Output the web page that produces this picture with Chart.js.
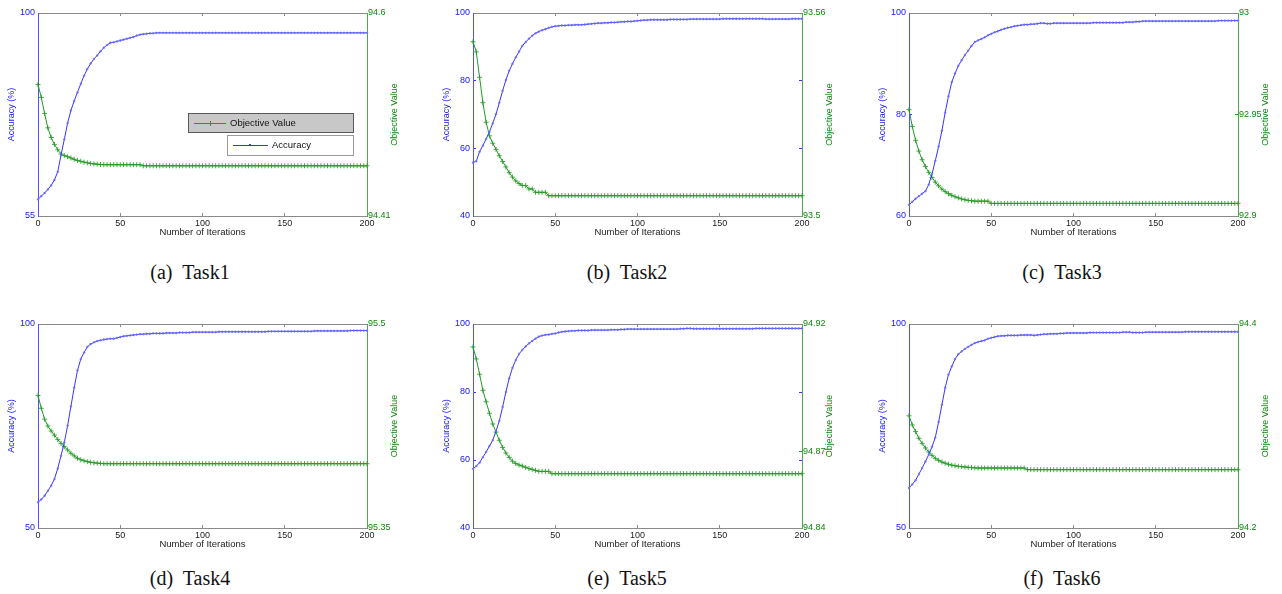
<!DOCTYPE html>
<html>
<head>
<meta charset="utf-8">
<title>Accuracy and Objective Value vs. Number of Iterations</title>
<script src="https://cdn.jsdelivr.net/npm/chart.js@4.4.1/dist/chart.umd.min.js"></script>
<style>
    html, body { margin: 0; padding: 0; background: #fff; overflow: hidden; }
    body { width: 1282px; height: 594px; position: relative; }
    canvas { position: absolute; }
    .caption {
        position: absolute;
        width: 200px;
        text-align: center;
        font-family: "Liberation Serif", "Times New Roman", serif;
        font-size: 20px;
        line-height: 20px;
        color: #111;
        white-space: pre;
    }
</style>
</head>
<body>
<script>
// Iterations on the x axis (every second iteration)
const iterations = [
    0, 2, 4, 6, 8, 10, 12, 14, 16, 18,
    20, 22, 24, 26, 28, 30, 32, 34, 36, 38,
    40, 42, 44, 46, 48, 50, 52, 54, 56, 58,
    60, 62, 64, 66, 68, 70, 72, 74, 76, 78,
    80, 82, 84, 86, 88, 90, 92, 94, 96, 98,
    100, 102, 104, 106, 108, 110, 112, 114, 116, 118,
    120, 122, 124, 126, 128, 130, 132, 134, 136, 138,
    140, 142, 144, 146, 148, 150, 152, 154, 156, 158,
    160, 162, 164, 166, 168, 170, 172, 174, 176, 178,
    180, 182, 184, 186, 188, 190, 192, 194, 196, 198,
    200
];

// Task1
const accTask1 = [
    58.7, 59.4, 60.1, 60.9, 61.8, 63.0, 64.8, 68.5, 72.0, 75.6,
    78.4, 80.5, 82.4, 84.3, 86.1, 87.6, 88.8, 89.8, 90.6, 91.5,
    92.3, 92.9, 93.4, 93.5, 93.7, 93.9, 94.1, 94.3, 94.5, 94.7,
    95.0, 95.2, 95.3, 95.4, 95.5, 95.5, 95.6, 95.6, 95.6, 95.6,
    95.6, 95.6, 95.6, 95.6, 95.6, 95.6, 95.6, 95.6, 95.6, 95.6,
    95.6, 95.6, 95.6, 95.6, 95.6, 95.6, 95.6, 95.6, 95.6, 95.6,
    95.6, 95.6, 95.6, 95.6, 95.6, 95.6, 95.6, 95.6, 95.6, 95.6,
    95.6, 95.6, 95.6, 95.6, 95.6, 95.6, 95.6, 95.6, 95.6, 95.6,
    95.6, 95.6, 95.6, 95.6, 95.6, 95.6, 95.6, 95.6, 95.6, 95.6,
    95.6, 95.6, 95.6, 95.6, 95.6, 95.6, 95.6, 95.6, 95.6, 95.6,
    95.6
];
const objTask1 = [
    94.5330, 94.5210, 94.5060, 94.4925, 94.4835, 94.4770, 94.4720, 94.4680, 94.4665, 94.4655,
    94.4643, 94.4630, 94.4620, 94.4612, 94.4604, 94.4598, 94.4592, 94.4588, 94.4585, 94.4582,
    94.4580, 94.4580, 94.4580, 94.4580, 94.4580, 94.4580, 94.4580, 94.4580, 94.4580, 94.4580,
    94.4580, 94.4580, 94.4570, 94.4570, 94.4570, 94.4570, 94.4570, 94.4570, 94.4570, 94.4570,
    94.4570, 94.4570, 94.4570, 94.4570, 94.4570, 94.4570, 94.4570, 94.4570, 94.4570, 94.4570,
    94.4570, 94.4570, 94.4570, 94.4570, 94.4570, 94.4570, 94.4570, 94.4570, 94.4570, 94.4570,
    94.4570, 94.4570, 94.4570, 94.4570, 94.4570, 94.4570, 94.4570, 94.4570, 94.4570, 94.4570,
    94.4570, 94.4570, 94.4570, 94.4570, 94.4570, 94.4570, 94.4570, 94.4570, 94.4570, 94.4570,
    94.4570, 94.4570, 94.4570, 94.4570, 94.4570, 94.4570, 94.4570, 94.4570, 94.4570, 94.4570,
    94.4570, 94.4570, 94.4570, 94.4570, 94.4570, 94.4570, 94.4570, 94.4570, 94.4570, 94.4570,
    94.4570
];

// Task2
const accTask2 = [
    55.8, 56.2, 59.0, 60.8, 62.8, 64.9, 67.4, 70.1, 73.5, 77.0,
    80.2, 82.9, 85.0, 86.9, 88.6, 90.3, 91.4, 92.4, 93.3, 94.0,
    94.5, 94.9, 95.2, 95.6, 95.9, 96.1, 96.2, 96.3, 96.3, 96.4,
    96.4, 96.5, 96.5, 96.5, 96.6, 96.7, 96.8, 96.9, 97.0, 97.0,
    97.1, 97.1, 97.2, 97.2, 97.3, 97.4, 97.4, 97.5, 97.5, 97.6,
    97.7, 97.8, 97.9, 97.9, 98.0, 98.0, 98.0, 98.0, 98.0, 98.0,
    98.1, 98.1, 98.1, 98.1, 98.1, 98.1, 98.2, 98.2, 98.2, 98.2,
    98.2, 98.2, 98.2, 98.2, 98.2, 98.2, 98.3, 98.3, 98.3, 98.3,
    98.3, 98.3, 98.3, 98.3, 98.3, 98.3, 98.3, 98.3, 98.3, 98.2,
    98.2, 98.2, 98.2, 98.2, 98.2, 98.2, 98.2, 98.3, 98.3, 98.3,
    98.3
];
const objTask2 = [
    93.5515, 93.5485, 93.5410, 93.5335, 93.5277, 93.5237, 93.5215, 93.5197, 93.5178, 93.5161,
    93.5145, 93.5128, 93.5115, 93.5104, 93.5096, 93.5090, 93.5090, 93.5080, 93.5080, 93.5070,
    93.5070, 93.5070, 93.5070, 93.5060, 93.5060, 93.5060, 93.5060, 93.5060, 93.5060, 93.5060,
    93.5060, 93.5060, 93.5060, 93.5060, 93.5060, 93.5060, 93.5060, 93.5060, 93.5060, 93.5060,
    93.5060, 93.5060, 93.5060, 93.5060, 93.5060, 93.5060, 93.5060, 93.5060, 93.5060, 93.5060,
    93.5060, 93.5060, 93.5060, 93.5060, 93.5060, 93.5060, 93.5060, 93.5060, 93.5060, 93.5060,
    93.5060, 93.5060, 93.5060, 93.5060, 93.5060, 93.5060, 93.5060, 93.5060, 93.5060, 93.5060,
    93.5060, 93.5060, 93.5060, 93.5060, 93.5060, 93.5060, 93.5060, 93.5060, 93.5060, 93.5060,
    93.5060, 93.5060, 93.5060, 93.5060, 93.5060, 93.5060, 93.5060, 93.5060, 93.5060, 93.5060,
    93.5060, 93.5060, 93.5060, 93.5060, 93.5060, 93.5060, 93.5060, 93.5060, 93.5060, 93.5060,
    93.5060
];

// Task3
const accTask3 = [
    62.2, 62.8, 63.4, 63.9, 64.4, 64.9, 66.2, 68.3, 70.9, 73.7,
    76.8, 80.4, 83.6, 86.4, 88.1, 89.6, 90.7, 91.7, 92.6, 93.5,
    94.3, 94.6, 94.9, 95.2, 95.6, 95.9, 96.2, 96.4, 96.7, 96.9,
    97.1, 97.2, 97.4, 97.5, 97.6, 97.7, 97.7, 97.8, 97.8, 97.9,
    98.0, 98.0, 97.9, 97.9, 98.0, 98.0, 98.0, 98.0, 98.0, 98.0,
    98.0, 98.0, 98.0, 98.0, 98.0, 98.0, 98.1, 98.1, 98.1, 98.1,
    98.1, 98.1, 98.1, 98.1, 98.1, 98.1, 98.2, 98.2, 98.2, 98.3,
    98.3, 98.4, 98.4, 98.4, 98.4, 98.4, 98.4, 98.4, 98.4, 98.4,
    98.4, 98.4, 98.4, 98.4, 98.4, 98.4, 98.4, 98.4, 98.4, 98.4,
    98.4, 98.4, 98.4, 98.4, 98.5, 98.5, 98.5, 98.5, 98.5, 98.5,
    98.5
];
const objTask3 = [
    92.9525, 92.9441, 92.9373, 92.9320, 92.9277, 92.9244, 92.9215, 92.9190, 92.9167, 92.9149,
    92.9133, 92.9120, 92.9110, 92.9102, 92.9095, 92.9089, 92.9084, 92.9080, 92.9077, 92.9075,
    92.9073, 92.9073, 92.9073, 92.9073, 92.9073, 92.9062, 92.9062, 92.9062, 92.9062, 92.9062,
    92.9062, 92.9062, 92.9062, 92.9062, 92.9062, 92.9062, 92.9062, 92.9062, 92.9062, 92.9062,
    92.9062, 92.9062, 92.9062, 92.9062, 92.9062, 92.9062, 92.9062, 92.9062, 92.9062, 92.9062,
    92.9062, 92.9062, 92.9062, 92.9062, 92.9062, 92.9062, 92.9062, 92.9062, 92.9062, 92.9062,
    92.9062, 92.9062, 92.9062, 92.9062, 92.9062, 92.9062, 92.9062, 92.9062, 92.9062, 92.9062,
    92.9062, 92.9062, 92.9062, 92.9062, 92.9062, 92.9062, 92.9062, 92.9062, 92.9062, 92.9062,
    92.9062, 92.9062, 92.9062, 92.9062, 92.9062, 92.9062, 92.9062, 92.9062, 92.9062, 92.9062,
    92.9062, 92.9062, 92.9062, 92.9062, 92.9062, 92.9062, 92.9062, 92.9062, 92.9062, 92.9062,
    92.9062
];

// Task4
const accTask4 = [
    56.3, 57.0, 57.9, 59.1, 60.4, 62.0, 64.6, 67.7, 71.0, 75.1,
    79.8, 84.4, 88.6, 91.4, 93.0, 94.4, 95.1, 95.5, 95.8, 96.0,
    96.2, 96.3, 96.4, 96.4, 96.6, 96.8, 97.0, 97.1, 97.2, 97.3,
    97.4, 97.5, 97.5, 97.6, 97.6, 97.7, 97.7, 97.7, 97.7, 97.8,
    97.8, 97.8, 97.8, 97.9, 97.9, 97.9, 97.9, 98.0, 98.0, 98.0,
    98.0, 98.0, 98.0, 98.0, 98.0, 98.1, 98.1, 98.1, 98.1, 98.1,
    98.1, 98.1, 98.1, 98.1, 98.1, 98.1, 98.1, 98.1, 98.1, 98.1,
    98.2, 98.2, 98.2, 98.2, 98.2, 98.2, 98.2, 98.2, 98.2, 98.2,
    98.2, 98.2, 98.2, 98.2, 98.3, 98.3, 98.3, 98.3, 98.3, 98.3,
    98.3, 98.3, 98.3, 98.3, 98.3, 98.4, 98.4, 98.4, 98.4, 98.4,
    98.4
];
const objTask4 = [
    95.4475, 95.4380, 95.4300, 95.4250, 95.4213, 95.4183, 95.4150, 95.4122, 95.4098, 95.4074,
    95.4050, 95.4030, 95.4013, 95.4002, 95.3994, 95.3988, 95.3983, 95.3980, 95.3977, 95.3975,
    95.3973, 95.3973, 95.3973, 95.3973, 95.3973, 95.3973, 95.3973, 95.3973, 95.3973, 95.3973,
    95.3973, 95.3973, 95.3973, 95.3973, 95.3973, 95.3973, 95.3973, 95.3973, 95.3973, 95.3973,
    95.3973, 95.3973, 95.3973, 95.3973, 95.3973, 95.3973, 95.3973, 95.3973, 95.3973, 95.3973,
    95.3973, 95.3973, 95.3973, 95.3973, 95.3973, 95.3973, 95.3973, 95.3973, 95.3973, 95.3973,
    95.3973, 95.3973, 95.3973, 95.3973, 95.3973, 95.3973, 95.3973, 95.3973, 95.3973, 95.3973,
    95.3973, 95.3973, 95.3973, 95.3973, 95.3973, 95.3973, 95.3973, 95.3973, 95.3973, 95.3973,
    95.3973, 95.3973, 95.3973, 95.3973, 95.3973, 95.3973, 95.3973, 95.3973, 95.3973, 95.3973,
    95.3973, 95.3973, 95.3973, 95.3973, 95.3973, 95.3973, 95.3973, 95.3973, 95.3973, 95.3973,
    95.3973
];

// Task5
const accTask5 = [
    57.4, 58.2, 59.2, 60.8, 62.4, 64.1, 65.8, 68.5, 71.5, 75.6,
    80.0, 84.0, 87.1, 89.4, 91.2, 92.4, 93.4, 94.3, 95.0, 95.7,
    96.3, 96.6, 96.8, 96.9, 97.1, 97.2, 97.5, 97.7, 97.8, 97.9,
    98.0, 98.0, 98.1, 98.1, 98.1, 98.1, 98.2, 98.2, 98.2, 98.2,
    98.2, 98.2, 98.3, 98.3, 98.3, 98.4, 98.4, 98.5, 98.5, 98.5,
    98.5, 98.5, 98.5, 98.5, 98.5, 98.5, 98.5, 98.5, 98.5, 98.5,
    98.5, 98.5, 98.5, 98.6, 98.6, 98.7, 98.7, 98.6, 98.6, 98.6,
    98.6, 98.6, 98.6, 98.6, 98.6, 98.6, 98.6, 98.6, 98.6, 98.6,
    98.6, 98.6, 98.6, 98.6, 98.6, 98.6, 98.7, 98.7, 98.7, 98.7,
    98.7, 98.7, 98.7, 98.7, 98.7, 98.7, 98.7, 98.7, 98.7, 98.7,
    98.7
];
const objTask5 = [
    94.9110, 94.9063, 94.9003, 94.8940, 94.8895, 94.8850, 94.8808, 94.8776, 94.8744, 94.8716,
    94.8694, 94.8677, 94.8662, 94.8653, 94.8647, 94.8643, 94.8638, 94.8633, 94.8630, 94.8626,
    94.8622, 94.8622, 94.8622, 94.8622, 94.8613, 94.8613, 94.8613, 94.8613, 94.8613, 94.8613,
    94.8613, 94.8613, 94.8613, 94.8613, 94.8613, 94.8613, 94.8613, 94.8613, 94.8613, 94.8613,
    94.8613, 94.8613, 94.8613, 94.8613, 94.8613, 94.8613, 94.8613, 94.8613, 94.8613, 94.8613,
    94.8613, 94.8613, 94.8613, 94.8613, 94.8613, 94.8613, 94.8613, 94.8613, 94.8613, 94.8613,
    94.8613, 94.8613, 94.8613, 94.8613, 94.8613, 94.8613, 94.8613, 94.8613, 94.8613, 94.8613,
    94.8613, 94.8613, 94.8613, 94.8613, 94.8613, 94.8613, 94.8613, 94.8613, 94.8613, 94.8613,
    94.8613, 94.8613, 94.8613, 94.8613, 94.8613, 94.8613, 94.8613, 94.8613, 94.8613, 94.8613,
    94.8613, 94.8613, 94.8613, 94.8613, 94.8613, 94.8613, 94.8613, 94.8613, 94.8613, 94.8613,
    94.8613
];

// Task6
const accTask6 = [
    59.8, 60.7, 61.7, 63.2, 64.7, 66.3, 68.0, 69.9, 72.2, 76.0,
    80.2, 84.4, 87.6, 89.6, 91.4, 92.6, 93.3, 93.9, 94.4, 94.9,
    95.3, 95.6, 95.8, 96.0, 96.4, 96.6, 96.8, 97.0, 97.1, 97.1,
    97.2, 97.2, 97.2, 97.2, 97.3, 97.3, 97.3, 97.3, 97.2, 97.3,
    97.4, 97.5, 97.5, 97.6, 97.6, 97.6, 97.7, 97.7, 97.8, 97.8,
    97.8, 97.8, 97.8, 97.8, 97.8, 97.9, 97.9, 97.9, 97.9, 97.9,
    97.9, 97.9, 97.9, 97.9, 97.9, 98.0, 98.0, 98.0, 97.9, 97.9,
    97.9, 97.9, 98.0, 98.0, 98.0, 98.0, 98.0, 98.0, 98.0, 98.0,
    98.0, 98.0, 98.0, 98.0, 98.1, 98.1, 98.1, 98.1, 98.1, 98.1,
    98.1, 98.1, 98.1, 98.1, 98.1, 98.1, 98.1, 98.1, 98.1, 98.1,
    98.1
];
const objTask6 = [
    94.3100, 94.3010, 94.2945, 94.2880, 94.2830, 94.2785, 94.2745, 94.2712, 94.2683, 94.2663,
    94.2647, 94.2635, 94.2625, 94.2616, 94.2610, 94.2605, 94.2601, 94.2598, 94.2595, 94.2592,
    94.2590, 94.2588, 94.2588, 94.2588, 94.2588, 94.2588, 94.2588, 94.2588, 94.2588, 94.2588,
    94.2588, 94.2588, 94.2588, 94.2588, 94.2588, 94.2588, 94.2572, 94.2572, 94.2572, 94.2572,
    94.2572, 94.2572, 94.2572, 94.2572, 94.2572, 94.2572, 94.2572, 94.2572, 94.2572, 94.2572,
    94.2572, 94.2572, 94.2572, 94.2572, 94.2572, 94.2572, 94.2572, 94.2572, 94.2572, 94.2572,
    94.2572, 94.2572, 94.2572, 94.2572, 94.2572, 94.2572, 94.2572, 94.2572, 94.2572, 94.2572,
    94.2572, 94.2572, 94.2572, 94.2572, 94.2572, 94.2572, 94.2572, 94.2572, 94.2572, 94.2572,
    94.2572, 94.2572, 94.2572, 94.2572, 94.2572, 94.2572, 94.2572, 94.2572, 94.2572, 94.2572,
    94.2572, 94.2572, 94.2572, 94.2572, 94.2572, 94.2572, 94.2572, 94.2572, 94.2572, 94.2572,
    94.2572
];

// Tick labels, first and last give the axis range
const accTicks1 = [55, 100];
const objTicks1 = [94.41, 94.6];
const accTicks2 = [40, 60, 80, 100];
const objTicks2 = [93.5, 93.56];
const accTicks3 = [60, 80, 100];
const objTicks3 = [92.9, 92.95, 93];
const accTicks4 = [50, 100];
const objTicks4 = [95.35, 95.5];
const accTicks5 = [40, 60, 80, 100];
const objTicks5 = [94.84, 94.87, 94.92];
const accTicks6 = [50, 100];
const objTicks6 = [94.2, 94.4];
const iterTicks = [0, 50, 100, 150, 200];

const captions = ['(a)\u00a0 Task1', '(b)\u00a0 Task2', '(c)\u00a0 Task3', '(d)\u00a0 Task4', '(e)\u00a0 Task5', '(f)\u00a0 Task6'];

const BLUE = '#3535ff';
const BLUE_TEXT = '#1414ff';
const GREEN = '#249a24';
const GREEN_TEXT = '#0f870f';
const GRAY = '#8a8a8a';
const FONT = '"Liberation Sans", Arial, Helvetica, sans-serif';

// Placement of each subplot (canvas top-left) and caption centre
const panels = [
    { acc: accTask1, obj: objTask1, accTicks: accTicks1, objTicks: objTicks1, left: 0,   top: 0,   height: 240, capX: 190, capY: 272, legend: true },
    { acc: accTask2, obj: objTask2, accTicks: accTicks2, objTicks: objTicks2, left: 435, top: 0,   height: 240, capX: 627, capY: 272 },
    { acc: accTask3, obj: objTask3, accTicks: accTicks3, objTicks: objTicks3, left: 871, top: 0,   height: 240, capX: 1062, capY: 272 },
    { acc: accTask4, obj: objTask4, accTicks: accTicks4, objTicks: objTicks4, left: 0,   top: 311, height: 241, capX: 190, capY: 578 },
    { acc: accTask5, obj: objTask5, accTicks: accTicks5, objTicks: objTicks5, left: 435, top: 311, height: 241, capX: 627, capY: 578 },
    { acc: accTask6, obj: objTask6, accTicks: accTicks6, objTicks: objTicks6, left: 871, top: 311, height: 241, capX: 1062, capY: 578 }
];

const toPoints = values => iterations.map((it, k) => ({ x: it, y: values[k] }));
const setTicks = list => scale => { scale.ticks = list.map(v => ({ value: v })); };

// Legend boxes like the MATLAB one in Task1
function drawLegend(ctx, area) {
    const x0 = area.left, y0 = area.top;
    ctx.save();
    ctx.lineWidth = 1;
    ctx.font = '9.5px ' + FONT;
    ctx.textAlign = 'left';
    ctx.textBaseline = 'middle';

    ctx.fillStyle = '#c8c8c8';
    ctx.strokeStyle = '#5a5a5a';
    ctx.fillRect(x0 + 150.5, y0 + 100.5, 165, 19);
    ctx.strokeRect(x0 + 150.5, y0 + 100.5, 165, 19);
    ctx.strokeStyle = GREEN;
    ctx.beginPath();
    ctx.moveTo(x0 + 156, y0 + 110.5); ctx.lineTo(x0 + 188, y0 + 110.5);
    ctx.moveTo(x0 + 172.5, y0 + 108); ctx.lineTo(x0 + 172.5, y0 + 113);
    ctx.stroke();
    ctx.fillStyle = '#111';
    ctx.fillText('Objective Value', x0 + 192, y0 + 110);

    ctx.fillStyle = '#fff';
    ctx.strokeStyle = '#9a9a9a';
    ctx.fillRect(x0 + 189.5, y0 + 122.5, 126, 20);
    ctx.strokeRect(x0 + 189.5, y0 + 122.5, 126, 20);
    ctx.strokeStyle = BLUE;
    ctx.beginPath();
    ctx.moveTo(x0 + 195, y0 + 132.5); ctx.lineTo(x0 + 230, y0 + 132.5);
    ctx.stroke();
    ctx.fillStyle = BLUE;
    ctx.fillRect(x0 + 211, y0 + 131, 2, 2);
    ctx.fillStyle = '#111';
    ctx.fillText('Accuracy', x0 + 234, y0 + 132);
    ctx.restore();
}

// Right axis title reads bottom-to-top, so it is drawn here
const extras = {
    id: 'extras',
    afterDraw(chart, args, opts) {
        const { ctx, chartArea } = chart;
        const y2 = chart.scales.y2;
        ctx.save();
        ctx.fillStyle = GREEN_TEXT;
        ctx.font = '9px ' + FONT;
        ctx.textAlign = 'center';
        ctx.textBaseline = 'middle';
        ctx.translate(y2.left + 28, (chartArea.top + chartArea.bottom) / 2);
        ctx.rotate(-Math.PI / 2);
        ctx.fillText('Objective Value', 0, 0);
        ctx.restore();
        if (opts.legend) drawLegend(ctx, chartArea);
    }
};

panels.forEach((p, i) => {
    const canvas = document.createElement('canvas');
    canvas.width = 410;
    canvas.height = p.height;
    canvas.style.left = p.left + 'px';
    canvas.style.top = p.top + 'px';
    canvas.style.width = '410px';
    canvas.style.height = p.height + 'px';
    document.body.appendChild(canvas);

    const cap = document.createElement('div');
    cap.className = 'caption';
    cap.textContent = captions[i];
    cap.style.left = (p.capX - 100) + 'px';
    cap.style.top = (p.capY - 10) + 'px';
    document.body.appendChild(cap);

    const accMin = p.accTicks[0], accMax = p.accTicks[p.accTicks.length - 1];
    const objMin = p.objTicks[0], objMax = p.objTicks[p.objTicks.length - 1];

    new Chart(canvas, {
        type: 'line',
        data: {
            datasets: [
                {
                    label: 'Accuracy',
                    data: toPoints(p.acc),
                    xAxisID: 'x',
                    yAxisID: 'y',
                    borderColor: BLUE,
                    backgroundColor: BLUE,
                    borderWidth: 1,
                    pointStyle: 'circle',
                    pointRadius: 0.9,
                    pointBorderWidth: 0.6,
                    pointBorderColor: '#7a7aff',
                    pointBackgroundColor: '#5a5aff',
                    tension: 0,
                    clip: false
                },
                {
                    label: 'Objective Value',
                    data: toPoints(p.obj),
                    xAxisID: 'x',
                    yAxisID: 'y2',
                    borderColor: GREEN,
                    backgroundColor: GREEN,
                    borderWidth: 1,
                    pointStyle: 'cross',
                    pointRadius: 2.5,
                    pointBorderWidth: 1,
                    pointBorderColor: 'rgba(36,154,36,0.85)',
                    tension: 0,
                    clip: false
                }
            ]
        },
        options: {
            responsive: false,
            animation: false,
            devicePixelRatio: 1,
            events: [],
            layout: { padding: { top: 13, left: 0, right: 0, bottom: 0 } },
            plugins: {
                legend: { display: false },
                tooltip: { enabled: false },
                extras: { legend: !!p.legend }
            },
            scales: {
                x: {
                    type: 'linear',
                    position: 'bottom',
                    min: 0,
                    max: 200,
                    afterBuildTicks: setTicks(iterTicks),
                    ticks: { color: '#222', font: { family: FONT, size: 9 }, padding: 5, maxRotation: 0, autoSkip: false },
                    grid: { drawOnChartArea: false, drawTicks: true, tickLength: -3, color: GRAY },
                    border: { color: GRAY },
                    title: {
                        display: true,
                        text: 'Number of Iterations',
                        color: '#222',
                        font: { family: FONT, size: 9.5 },
                        padding: { top: 0, bottom: 2 }
                    },
                    afterFit: s => { s.height = 24; }
                },
                xTop: {
                    type: 'linear',
                    position: 'top',
                    min: 0,
                    max: 200,
                    afterBuildTicks: setTicks(iterTicks),
                    ticks: { display: false },
                    grid: { drawOnChartArea: false, drawTicks: true, tickLength: -3, color: GRAY },
                    border: { color: GRAY },
                    afterFit: s => { s.height = 0; }
                },
                y: {
                    type: 'linear',
                    position: 'left',
                    min: accMin,
                    max: accMax,
                    afterBuildTicks: setTicks(p.accTicks),
                    ticks: { color: BLUE_TEXT, font: { family: FONT, size: 9 }, padding: 6, autoSkip: false, callback: v => String(v) },
                    grid: { drawOnChartArea: false, drawTicks: true, tickLength: -3, color: BLUE },
                    border: { color: '#5050ff' },
                    title: {
                        display: true,
                        text: 'Accuracy (%)',
                        color: BLUE_TEXT,
                        font: { family: FONT, size: 9 },
                        padding: { top: 6.6, bottom: 0 }
                    },
                    afterFit: s => { s.width = 38; }
                },
                yMirror: {
                    type: 'linear',
                    position: 'right',
                    weight: 0,
                    min: accMin,
                    max: accMax,
                    afterBuildTicks: setTicks(p.accTicks),
                    ticks: { display: false },
                    grid: { drawOnChartArea: false, drawTicks: true, tickLength: -3, color: BLUE },
                    border: { display: false },
                    afterFit: s => { s.width = 0; }
                },
                y2: {
                    type: 'linear',
                    position: 'right',
                    weight: 1,
                    min: objMin,
                    max: objMax,
                    afterBuildTicks: setTicks(p.objTicks),
                    ticks: { color: GREEN_TEXT, font: { family: FONT, size: 9 }, padding: 4, autoSkip: false, callback: v => String(v) },
                    grid: { drawOnChartArea: false, drawTicks: true, tickLength: -3, color: GREEN },
                    border: { color: '#4aaa4a' },
                    afterFit: s => { s.width = 43; }
                }
            }
        },
        plugins: [extras]
    });
});
</script>
</body>
</html>
